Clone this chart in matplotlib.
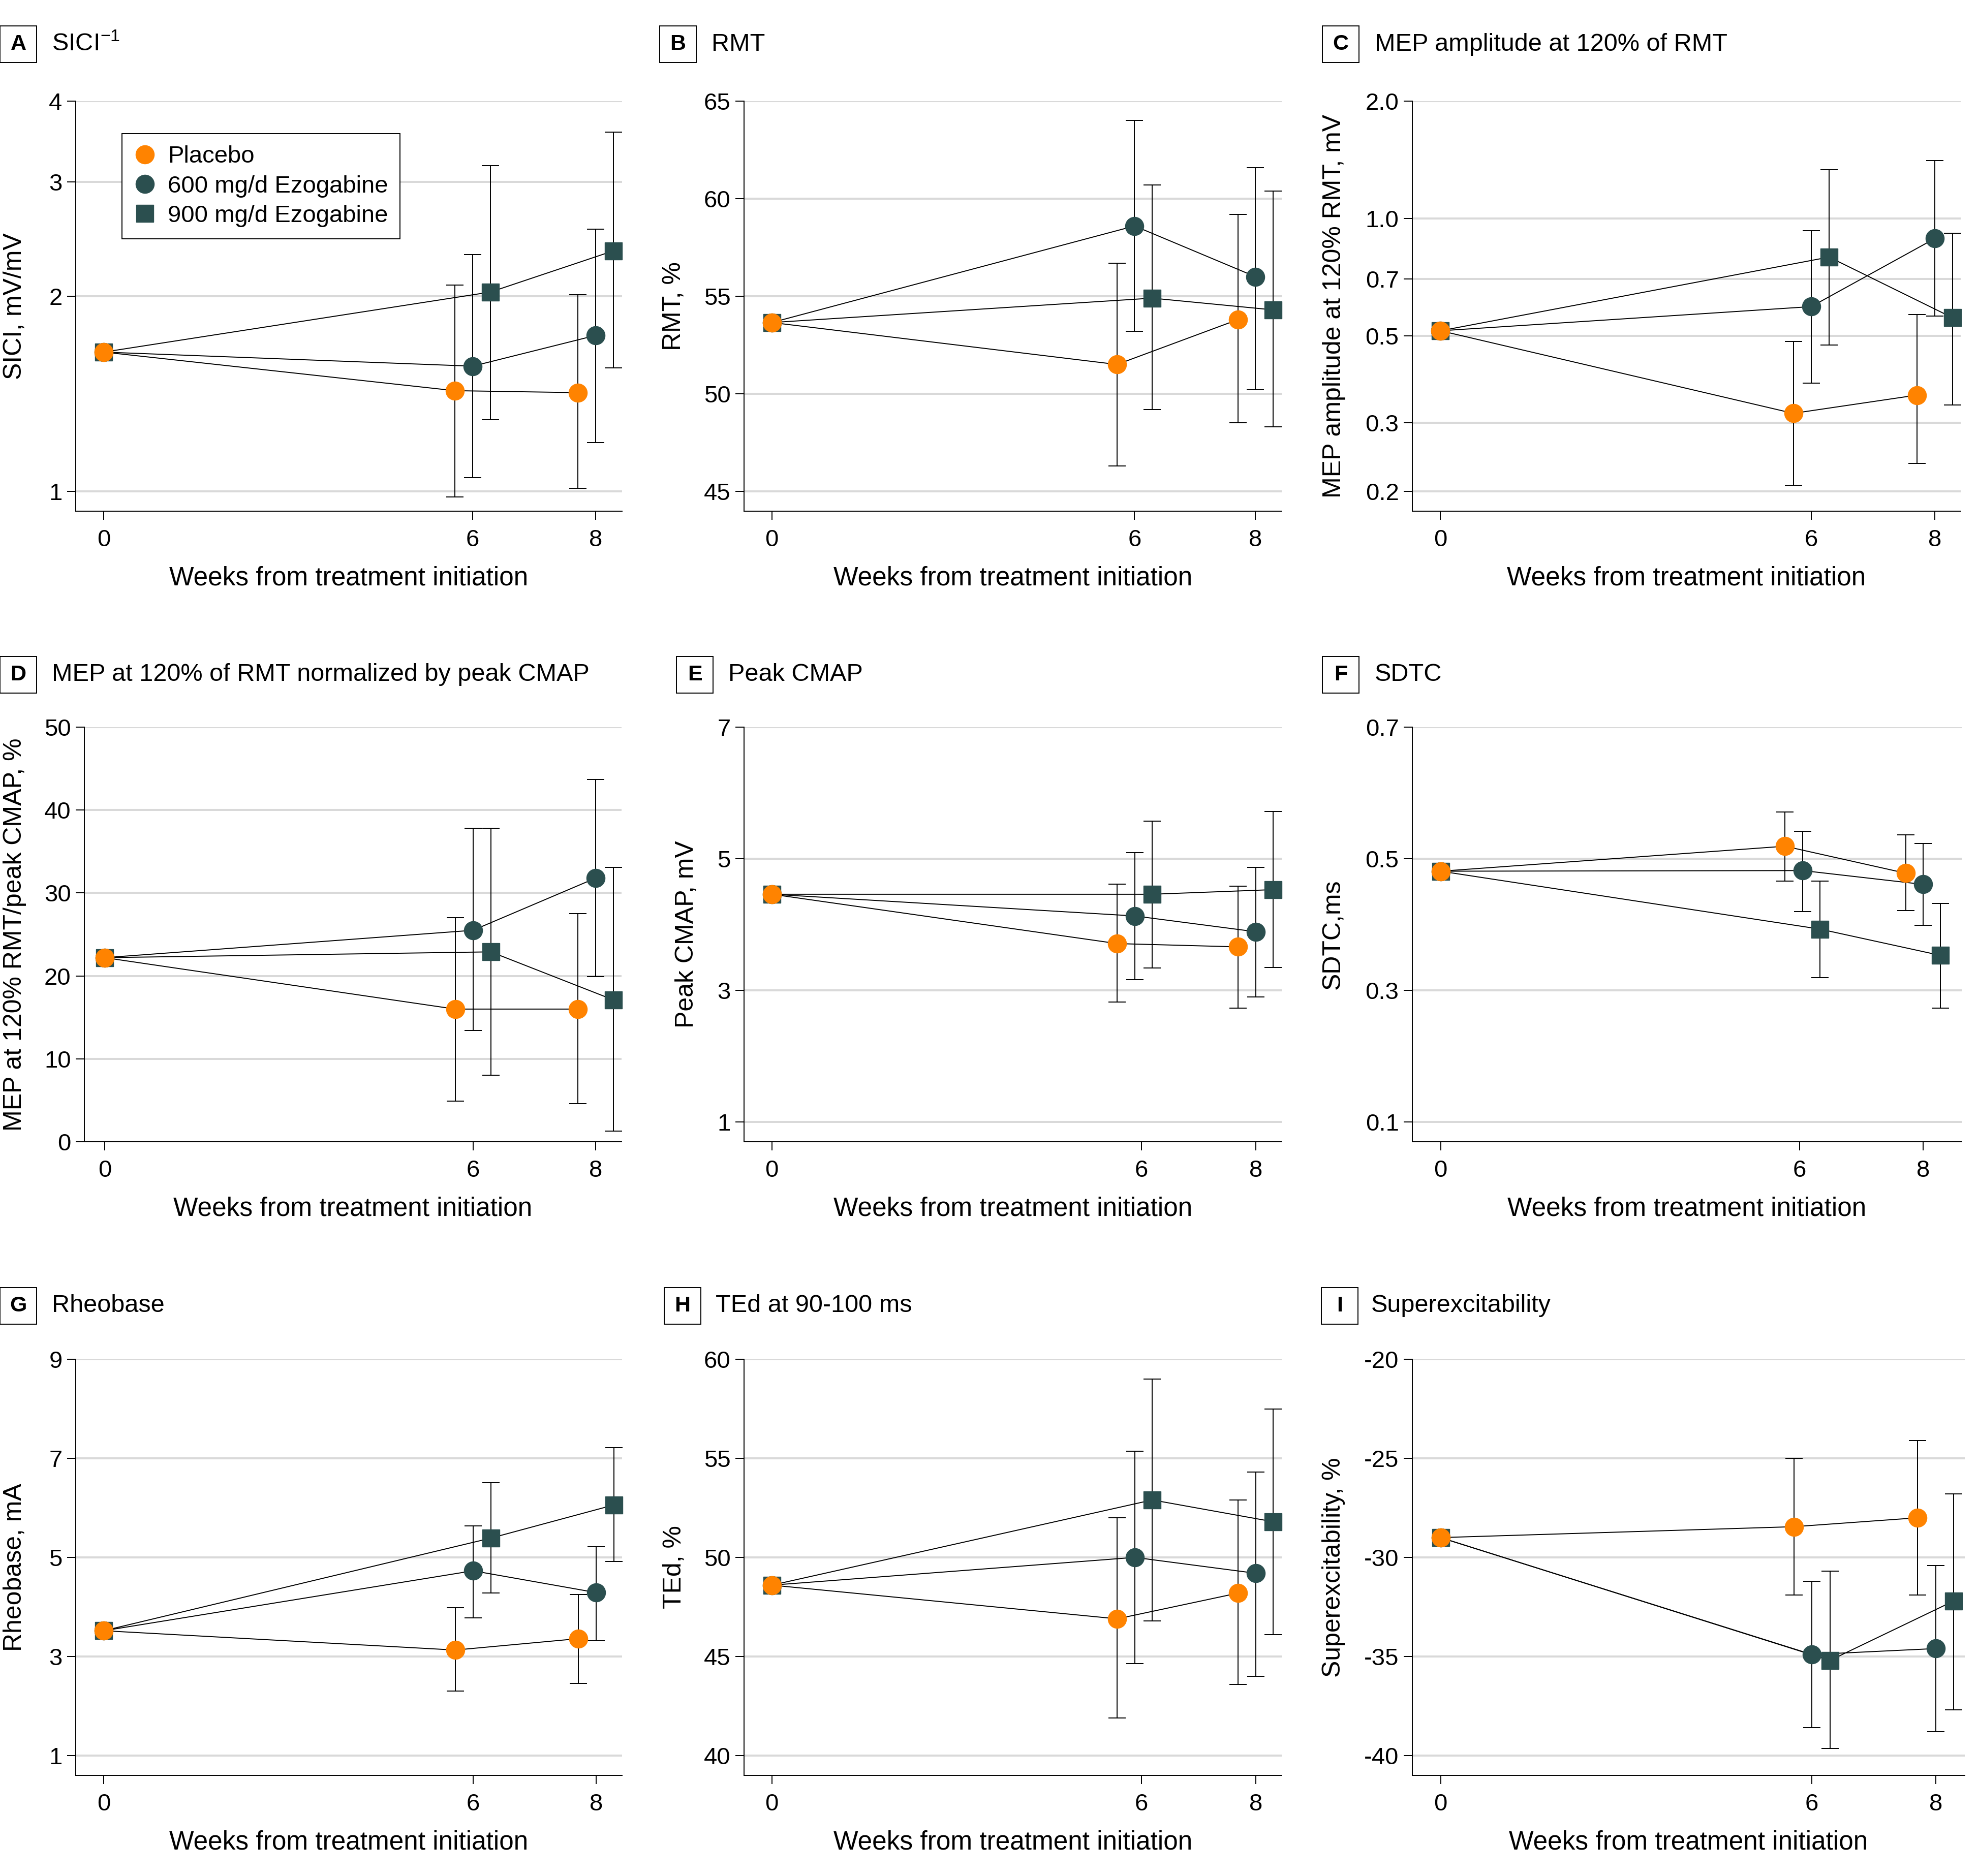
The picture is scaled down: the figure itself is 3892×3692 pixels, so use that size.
import matplotlib

matplotlib.use("Agg")
import matplotlib.pyplot as plt  # noqa: E402
from matplotlib.lines import Line2D  # noqa: E402
from matplotlib.patches import Rectangle  # noqa: E402
from matplotlib.ticker import NullLocator  # noqa: E402

W, H = 3892, 3692
DPI = 100

plt.rcParams["font.family"] = ["Liberation Sans", "DejaVu Sans"]
plt.rcParams["axes.unicode_minus"] = False
plt.rcParams["mathtext.default"] = "regular"

ORANGE = "#FF8300"
TEAL = "#2B4F4F"
GRID = "#D9D9D9"

WEEKS = [0, 6, 8]
OFFSETS = [-0.29, 0.0, 0.29]   # horizontal dodge per group at weeks 6 and 8
GROUPS = ["Placebo", "600 mg/d Ezogabine", "900 mg/d Ezogabine"]

# Each *_MEAN row: placebo / 600 / 900 at weeks 0, 6, 8.
# *_LOW / *_HIGH: error bar ends at weeks 6 and 8.
SICI_MEAN = [[1.64, 1.43, 1.42], [1.64, 1.56, 1.74], [1.64, 2.03, 2.35]]
SICI_LOW = [[0.98, 1.01], [1.05, 1.19], [1.29, 1.55]]
SICI_HIGH = [[2.08, 2.01], [2.32, 2.54], [3.18, 3.58]]

RMT_MEAN = [[53.65, 51.5, 53.8], [53.65, 58.6, 56.0], [53.65, 54.9, 54.3]]
RMT_LOW = [[46.3, 48.5], [53.2, 50.2], [49.2, 48.3]]
RMT_HIGH = [[56.7, 59.2], [64.0, 61.6], [60.7, 60.4]]

MEP_MEAN = [[0.516, 0.317, 0.353], [0.516, 0.595, 0.889], [0.516, 0.797, 0.557]]
MEP_LOW = [[0.2075, 0.236], [0.379, 0.563], [0.474, 0.333]]
MEP_HIGH = [[0.485, 0.568], [0.931, 1.408], [1.335, 0.918]]

MEPN_MEAN = [[22.2, 16.0, 16.0], [22.2, 25.5, 31.8], [22.2, 22.9, 17.1]]
MEPN_LOW = [[4.9, 4.6], [13.4, 19.9], [8.0, 1.3]]
MEPN_HIGH = [[27.0, 27.5], [37.8, 43.7], [37.8, 33.1]]

CMAP_MEAN = [[4.46, 3.71, 3.66], [4.46, 4.13, 3.89], [4.46, 4.46, 4.53]]
CMAP_LOW = [[2.82, 2.73], [3.16, 2.90], [3.34, 3.35]]
CMAP_HIGH = [[4.61, 4.58], [5.09, 4.87], [5.57, 5.72]]

SDTC_MEAN = [[0.481, 0.519, 0.478], [0.481, 0.482, 0.461], [0.481, 0.393, 0.353]]
SDTC_LOW = [[0.466, 0.421], [0.420, 0.399], [0.319, 0.273]]
SDTC_HIGH = [[0.571, 0.536], [0.542, 0.523], [0.466, 0.432]]

RHEO_MEAN = [[3.52, 3.13, 3.36], [3.52, 4.73, 4.29], [3.52, 5.39, 6.06]]
RHEO_LOW = [[2.30, 2.46], [3.78, 3.32], [4.28, 4.92]]
RHEO_HIGH = [[3.98, 4.25], [5.64, 5.22], [6.51, 7.22]]

TED_MEAN = [[48.6, 46.9, 48.2], [48.6, 50.0, 49.2], [48.6, 52.9, 51.8]]
TED_LOW = [[41.9, 43.6], [44.65, 44.0], [46.8, 46.1]]
TED_HIGH = [[52.0, 52.9], [55.35, 54.3], [59.0, 57.5]]

SUPER_MEAN = [[-29.0, -28.45, -28.0], [-29.0, -34.9, -34.6], [-29.0, -35.2, -32.2]]
SUPER_LOW = [[-31.9, -31.9], [-38.6, -38.8], [-39.65, -37.7]]
SUPER_HIGH = [[-25.0, -24.1], [-31.2, -30.4], [-30.7, -26.8]]

# Layout in reference pixels: axes box (left, right, top, bottom),
# letter-box x, title x, y-label centre x.
ROW_Y = [(199, 1006), (1431, 2247), (2675, 3494)]
TITLE_Y = [87, 1328, 2570]

PANELS = [
    dict(letter="A", title="SICI$^{-1}$", ylabel="SICI, mV/mV",
         mean=SICI_MEAN, low=SICI_LOW, high=SICI_HIGH, log=True,
         yticks=[1, 2, 3, 4], ylabels=["1", "2", "3", "4"], ylim=(0.932, 4),
         xlim=(-0.455, 8.43), xticks=[0, 6, 8],
         box=(149, 1224, 0), boxx=0, tx=102, ylx=29, legend=True),
    dict(letter="B", title="RMT", ylabel="RMT, %",
         mean=RMT_MEAN, low=RMT_LOW, high=RMT_HIGH, log=False,
         yticks=[45, 50, 55, 60, 65], ylabels=None, ylim=(43.98, 65),
         xlim=(-0.46, 8.435), xticks=[0, 6, 8],
         box=(1464, 2522, 0), boxx=1298, tx=1400, ylx=1326),
    dict(letter="C", title="MEP amplitude at 120% of RMT",
         ylabel="MEP amplitude at 120% RMT, mV",
         mean=MEP_MEAN, low=MEP_LOW, high=MEP_HIGH, log=True,
         yticks=[0.2, 0.3, 0.5, 0.7, 1.0, 2.0],
         ylabels=["0.2", "0.3", "0.5", "0.7", "1.0", "2.0"], ylim=(0.178, 2.0),
         xlim=(-0.456, 8.42), xticks=[0, 6, 8],
         box=(2779, 3858, 0), boxx=2602, tx=2705, ylx=2625),
    dict(letter="D", title="MEP at 120% of RMT normalized by peak CMAP",
         ylabel="MEP at 120% RMT/peak CMAP, %",
         mean=MEPN_MEAN, low=MEPN_LOW, high=MEPN_HIGH, log=False,
         yticks=[0, 10, 20, 30, 40, 50], ylabels=None, ylim=(0, 50),
         xlim=(-0.33, 8.42), xticks=[0, 6, 8],
         box=(166, 1223, 1), boxx=0, tx=102, ylx=29),
    dict(letter="E", title="Peak CMAP", ylabel="Peak CMAP, mV",
         mean=CMAP_MEAN, low=CMAP_LOW, high=CMAP_HIGH, log=False,
         yticks=[1, 3, 5, 7], ylabels=None, ylim=(0.698, 7),
         xlim=(-0.46, 8.43), xticks=[0, 6.11, 8],
         box=(1464, 2522, 1), boxx=1331, tx=1433, ylx=1351),
    dict(letter="F", title="SDTC", ylabel="SDTC,ms",
         mean=SDTC_MEAN, low=SDTC_LOW, high=SDTC_HIGH, log=False,
         yticks=[0.1, 0.3, 0.5, 0.7], ylabels=["0.1", "0.3", "0.5", "0.7"],
         ylim=(0.0698, 0.7),
         xlim=(-0.47, 8.64), xticks=[0, 5.95, 8],
         box=(2779, 3860, 1), boxx=2602, tx=2705, ylx=2623),
    dict(letter="G", title="Rheobase", ylabel="Rheobase, mA",
         mean=RHEO_MEAN, low=RHEO_LOW, high=RHEO_HIGH, log=False,
         yticks=[1, 3, 5, 7, 9], ylabels=None, ylim=(0.6, 9),
         xlim=(-0.455, 8.42), xticks=[0, 6, 8],
         box=(149, 1224, 2), boxx=0, tx=102, ylx=29),
    dict(letter="H", title="TEd at 90-100 ms", ylabel="TEd, %",
         mean=TED_MEAN, low=TED_LOW, high=TED_HIGH, log=False,
         yticks=[40, 45, 50, 55, 60], ylabels=None, ylim=(39.0, 60),
         xlim=(-0.46, 8.43), xticks=[0, 6.11, 8],
         box=(1464, 2522, 2), boxx=1307, tx=1408, ylx=1326),
    dict(letter="I", title="Superexcitability", ylabel="Superexcitability, %",
         mean=SUPER_MEAN, low=SUPER_LOW, high=SUPER_HIGH, log=False,
         yticks=[-40, -35, -30, -25, -20], ylabels=None, ylim=(-41.0, -20),
         xlim=(-0.456, 8.47), xticks=[0, 6, 8],
         box=(2779, 3866, 2), boxx=2600, tx=2698, ylx=2624),
]

# placebo, 600, 900 -> (colour, marker, size)
STYLES = [(ORANGE, "o", 26), (TEAL, "o", 26), (TEAL, "s", 24)]
LW = 1.4
TICK_FS = 34
LABEL_FS = 37
TITLE_FS = 35


def draw_groups(ax, mean, low, high):
    # 900 first so placebo ends up on top at the shared baseline point
    for g in (2, 1, 0):
        colour, marker, size = STYLES[g]
        xs = [WEEKS[0]] + [w + OFFSETS[g] for w in WEEKS[1:]]
        ys = mean[g]
        ax.plot(xs, ys, color="black", lw=LW, zorder=2)
        err_lo = [ys[i + 1] - low[g][i] for i in range(2)]
        err_hi = [high[g][i] - ys[i + 1] for i in range(2)]
        ax.errorbar(xs[1:], ys[1:], yerr=[err_lo, err_hi], fmt="none",
                    ecolor="black", elinewidth=LW, capsize=12, capthick=LW,
                    zorder=2)
        ax.plot(xs, ys, ls="none", marker=marker, ms=size, color=colour,
                mec=colour, zorder=4 + (2 - g) * 0.1, clip_on=False)


fig = plt.figure(figsize=(W / DPI, H / DPI), dpi=DPI)

for p in PANELS:
    left, right, row = p["box"]
    top, bottom = ROW_Y[row]
    wpx, hpx = right - left, bottom - top
    ax = fig.add_axes([left / W, 1 - bottom / H, wpx / W, hpx / H])

    draw_groups(ax, p["mean"], p["low"], p["high"])

    if p["log"]:
        ax.set_yscale("log")
    ax.set_ylim(*p["ylim"])
    ax.set_yticks(p["yticks"])
    ax.yaxis.set_minor_locator(NullLocator())
    if p["ylabels"] is not None:
        ax.set_yticklabels(p["ylabels"])
    else:
        ax.set_yticklabels([str(v) for v in p["yticks"]])
    ax.set_xlim(*p["xlim"])
    ax.set_xticks(p["xticks"])
    ax.set_xticklabels(["0", "6", "8"])

    for s in ("top", "right"):
        ax.spines[s].set_visible(False)
    for s in ("left", "bottom"):
        ax.spines[s].set_linewidth(LW)
    ax.tick_params(axis="both", direction="out", length=12, width=LW,
                   labelsize=TICK_FS)
    ax.tick_params(axis="x", pad=13)
    ax.tick_params(axis="y", pad=7)
    ax.grid(axis="y", color=GRID, lw=2.9)
    ax.set_axisbelow(True)

    ax.set_xlabel("Weeks from treatment initiation", fontsize=LABEL_FS)
    ax.xaxis.set_label_coords(0.5, -132 / hpx)
    ax.xaxis.label.set_va("center")
    ax.set_ylabel(p["ylabel"], fontsize=LABEL_FS - 1)
    ax.yaxis.set_label_coords((p["ylx"] - left) / wpx, 0.5)
    ax.yaxis.label.set_va("center")

    # panel letter in a square box + title
    ty = TITLE_Y[row]
    fig.patches.append(Rectangle(
        (p["boxx"] / W, 1 - (ty + 36) / H), 72 / W, 72 / H,
        transform=fig.transFigure, fill=False, edgecolor="black", lw=LW))
    fig.text((p["boxx"] + 36) / W, 1 - ty / H, p["letter"], ha="center",
             va="center", fontsize=31, fontweight="bold")
    fig.text(p["tx"] / W, 1 - ty / H, p["title"], ha="left", va="center",
             fontsize=TITLE_FS)

    if p.get("legend"):
        handles = [Line2D([], [], ls="none", marker=m, ms=s, color=c, mec=c)
                   for c, m, s in STYLES]
        leg = ax.legend(handles, GROUPS, loc="upper left",
                        bbox_to_anchor=(0.085, 0.921), borderaxespad=0,
                        fancybox=False, edgecolor="black", fontsize=34,
                        handlelength=0.9, handletextpad=0.5, borderpad=0.5,
                        labelspacing=0.3, framealpha=1)
        leg.get_frame().set_linewidth(LW)

fig.savefig("out.png", dpi=DPI, facecolor="white")
